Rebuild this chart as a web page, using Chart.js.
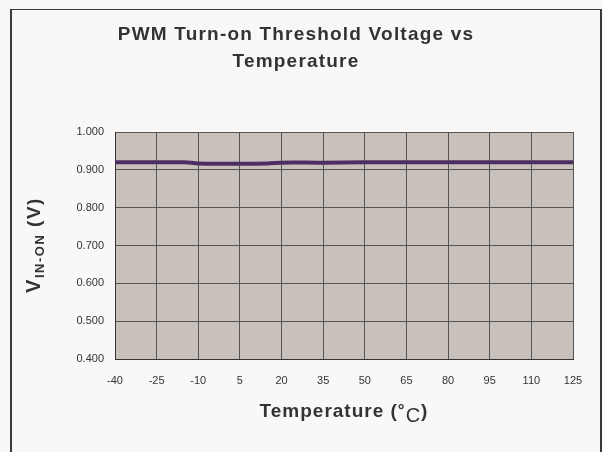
<!DOCTYPE html>
<html>
<head>
<meta charset="utf-8">
<script src="https://cdn.jsdelivr.net/npm/chart.js@4"></script>
<style>
  html, body { margin: 0; padding: 0; background: #F9F8F6; }
  #wrap { position: relative; width: 603px; height: 452px; overflow: hidden; }
  #frame { position: absolute; left: 10px; top: 9px; width: 588px; height: 460px;
           border: 1px solid #3a3a3a; border-right-width: 2px; border-left-width: 2px; }
  canvas { position: absolute; left: 0; top: 0; }
</style>
</head>
<body>
<div id="wrap">
  <div id="frame"></div>
  <canvas id="myChart" width="603" height="452"></canvas>
</div>
<script>
// data
var TEMPS = [-40, -25, -15, -10, 5, 15, 20, 35, 50, 65, 80, 95, 110, 125];
var VIN_ON = [0.920, 0.920, 0.920, 0.917, 0.916, 0.917, 0.919, 0.919, 0.920, 0.920, 0.920, 0.920, 0.920, 0.920];
var X_TICKS = [-40, -25, -10, 5, 20, 35, 50, 65, 80, 95, 110, 125];
var TITLE_LINES = ['PWM Turn-on Threshold Voltage vs', 'Temperature'];

var FONT = "'Liberation Sans', Arial, sans-serif";

var points = TEMPS.map(function(t, i) { return { x: t, y: VIN_ON[i] }; });

// draws a run of text pieces centred on cx
function drawParts(ctx, parts, cx, y, spacing) {
    var total = 0;
    ctx.letterSpacing = spacing + 'px';
    parts.forEach(function(p) { ctx.font = p.f; p.w = ctx.measureText(p.t).width; total += p.w; });
    var x = cx - total / 2;
    ctx.textAlign = 'left';
    parts.forEach(function(p) { ctx.font = p.f; ctx.fillText(p.t, x, y + p.dy); x += p.w; });
}

// grey plot background, titles and axis titles
var decor = {
    id: 'decor',
    beforeDraw: function(chart) {
	var a = chart.chartArea, ctx = chart.ctx;
	ctx.save();
	ctx.fillStyle = '#C8C0BA';
	ctx.fillRect(a.left, a.top, a.right - a.left, a.bottom - a.top);
	ctx.restore();
    },
    afterDraw: function(chart) {
	var ctx = chart.ctx;
	ctx.save();
	ctx.fillStyle = '#333333';
	ctx.textBaseline = 'alphabetic';
	drawParts(ctx, [{ t: TITLE_LINES[0], f: 'bold 19px ' + FONT, dy: 0 }], 296, 40, 1.2);
	drawParts(ctx, [{ t: TITLE_LINES[1], f: 'bold 19px ' + FONT, dy: 0 }], 296, 67, 1.2);

	// x title: Temperature (°C)
	drawParts(ctx, [
	    { t: 'Temperature (', f: 'bold 19px ' + FONT, dy: 0 },
	    { t: '\u00B0', f: 'bold 17px ' + FONT, dy: -1 },
	    { t: 'C', f: '20px ' + FONT, dy: 5 },
	    { t: ')', f: 'bold 19px ' + FONT, dy: 0 }
	], 344, 417, 1);

	// y title: V IN-ON (V)
	ctx.translate(40, 245);
	ctx.rotate(-Math.PI / 2);
	drawParts(ctx, [
	    { t: 'V', f: 'bold 20px ' + FONT, dy: 0 },
	    { t: 'IN-ON', f: 'bold 13px ' + FONT, dy: 4 },
	    { t: ' (V)', f: 'bold 19px ' + FONT, dy: 0 }
	], 0, 0, 1.5);
	ctx.restore();
    }
};

var ctx = document.getElementById('myChart').getContext('2d');
var chart = new Chart(ctx, {
    type: 'line',
    data: {
	datasets: [{
	    data: points,
	    borderColor: '#4E2E62',
	    borderWidth: 4,
	    pointRadius: 0,
	    tension: 0.3,
	    fill: false
	}]
    },
    options: {
	responsive: false,
	animation: false,
	layout: { padding: { top: 132, right: 30, bottom: 0, left: 0 } },
	plugins: { legend: { display: false }, tooltip: { enabled: false } },
	scales: {
	    x: {
		type: 'linear',
		min: -40, max: 125,
		afterBuildTicks: function(s) {
		    s.ticks = X_TICKS.map(function(v) { return { value: v }; });
		},
		afterFit: function(s) { s.height = 93; },
		grid: { color: '#555555', lineWidth: 1, drawTicks: false },
		border: { color: '#333333', width: 1 },
		ticks: { padding: 15, color: '#333333', font: { family: FONT, size: 11 } }
	    },
	    y: {
		min: 0.4, max: 1.0,
		afterFit: function(s) { s.width = 115; },
		grid: { color: '#555555', lineWidth: 1, drawTicks: false },
		border: { color: '#333333', width: 1 },
		ticks: {
		    stepSize: 0.1, padding: 11, color: '#333333',
		    font: { family: FONT, size: 11 },
		    callback: function(v) { return v.toFixed(3); }
		}
	    }
	}
    },
    plugins: [decor]
});
</script>
</body>
</html>
